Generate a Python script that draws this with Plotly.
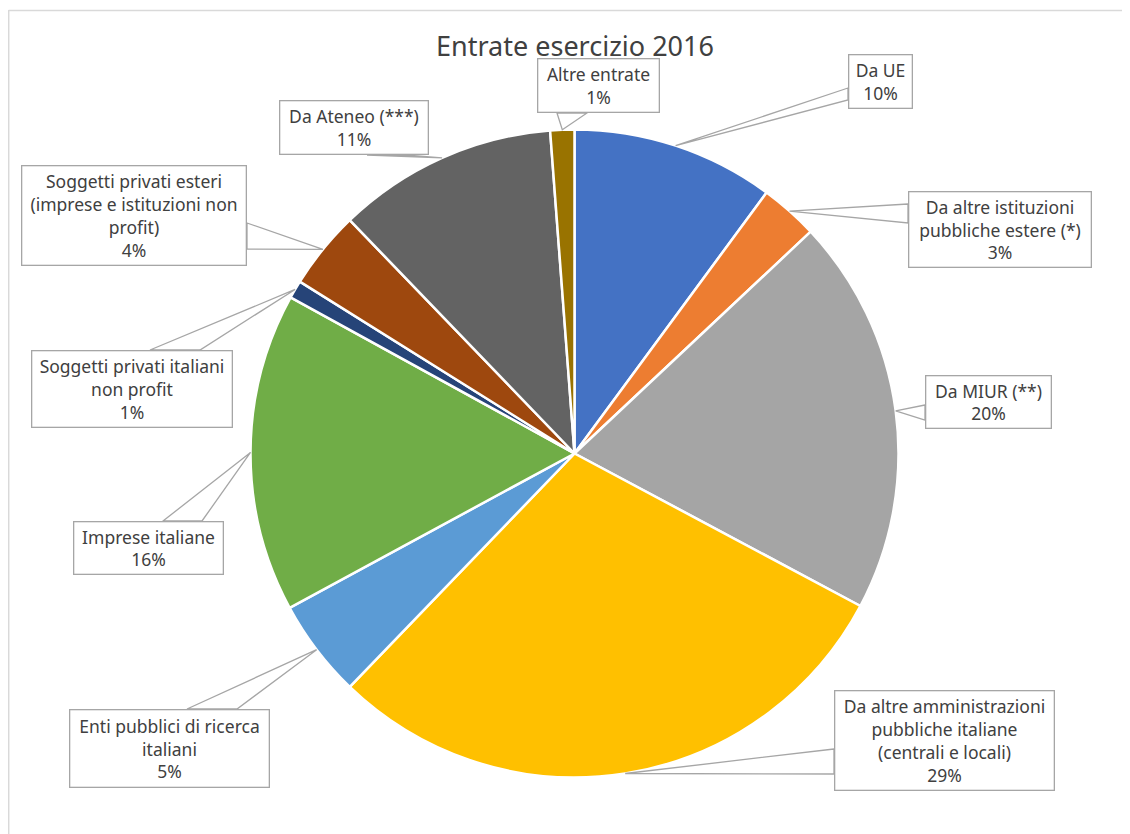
import math
import plotly.graph_objects as go

# ---------------- data ----------------
categories = [
    "Da UE",
    "Da altre istituzioni<br>pubbliche estere (*)",
    "Da MIUR (**)",
    "Da altre amministrazioni<br>pubbliche italiane<br>(centrali e locali)",
    "Enti pubblici di ricerca<br>italiani",
    "Imprese italiane",
    "Soggetti privati italiani<br>non profit",
    "Soggetti privati esteri<br>(imprese e istituzioni non<br>profit)",
    "Da Ateneo (***)",
    "Altre entrate",
]
values = [10.1, 2.9, 19.8, 29.4, 4.9, 15.9, 0.9, 3.9, 11.0, 1.2]
colors = ["#4472C4", "#ED7D31", "#A5A5A5", "#FFC000", "#5B9BD5",
          "#70AD47", "#264478", "#9E480E", "#636363", "#997300"]
title_text = "Entrate esercizio 2016"

# ---------------- layout geometry (page pixels) ----------------
OFF = 8                      # html body margin
W, H = 1130 - OFF, 834 - OFF
CX, CY, R = 574.5, 453.5, 324

# callout boxes: x0, x1, y0, y1 (page px)
boxes = [
    (848, 913, 54, 109),
    (908, 1092, 191, 268),
    (925, 1052, 375, 429),
    (834, 1055, 690, 791),
    (69, 270, 709, 788),
    (73, 224, 521, 575),
    (31, 233, 350, 428),
    (21, 247, 165, 266),
    (279, 429, 100, 155),
    (537, 660, 58, 113),
]
# wedge base: side and two coordinates along that side
bases = [
    ("l", 88, 100),
    ("l", 204, 223),
    ("l", 405, 420),
    ("l", 749, 774),
    ("t", 187, 237),
    ("t", 163, 202),
    ("t", 150, 200),
    ("r", 223, 249),
    ("b", 367, 405),
    ("b", 557, 587),
]

FONT = "Noto Sans, Open Sans, sans-serif"


def px(x):
    return (x - OFF) / W


def py(y):
    return 1 - (y - OFF) / H


fig = go.Figure()
fig.add_trace(go.Pie(
    labels=[c.replace("<br>", " ") for c in categories],
    values=values,
    sort=False,
    direction="clockwise",
    rotation=0,
    marker=dict(colors=colors, line=dict(color="white", width=2.5)),
    textinfo="none",
    hoverinfo="label+percent",
    showlegend=False,
    domain=dict(x=[px(CX - R), px(CX + R)], y=[py(CY + R), py(CY - R)]),
))

total = sum(values)
shapes = []
annotations = []
cum = 0.0
for i, v in enumerate(values):
    mid = (cum + v / 2) / total * 2 * math.pi
    cum += v
    tx = CX + R * math.sin(mid)
    ty = CY - R * math.cos(mid)
    x0, x1, y0, y1 = boxes[i]
    side, a, b = bases[i]
    if side == "l":
        p1, p2 = (x0, a), (x0, b)
    elif side == "r":
        p1, p2 = (x1, a), (x1, b)
    elif side == "t":
        p1, p2 = (a, y0), (b, y0)
    else:
        p1, p2 = (a, y1), (b, y1)
    path = "M {},{} L {},{} L {},{} Z".format(px(p1[0]), py(p1[1]), px(tx), py(ty), px(p2[0]), py(p2[1]))
    shapes.append(dict(type="path", path=path, xref="paper", yref="paper",
                       fillcolor="white", line=dict(color="#A6A6A6", width=1.3), layer="above"))
    pct = round(v / total * 100)
    bw = 1.3
    pad = 2
    annotations.append(dict(
        x=px((x0 + x1) / 2), y=py((y0 + y1) / 2), xref="paper", yref="paper",
        xanchor="center", yanchor="middle",
        width=(x1 - x0) - 2 * pad - 2 * bw, height=(y1 - y0) - 2 * pad - 2 * bw,
        text=f"{categories[i]}<br>{pct}%", showarrow=False, align="center",
        bgcolor="white", bordercolor="#A6A6A6", borderwidth=bw, borderpad=pad,
        font=dict(family=FONT, size=17.5, color="#404040"),
    ))

# chart frame (left and top edges visible)
shapes.append(dict(type="line", xref="paper", yref="paper", x0=px(8.7), x1=px(8.7), y0=0, y1=py(10),
                   line=dict(color="#D9D9D9", width=1.5)))
shapes.append(dict(type="line", xref="paper", yref="paper", x0=px(8.7), x1=1, y0=py(10.5), y1=py(10.5),
                   line=dict(color="#D9D9D9", width=1.5)))

fig.update_layout(
    width=W, height=H,
    margin=dict(l=0, r=0, t=0, b=0),
    paper_bgcolor="white", plot_bgcolor="white",
    title=dict(text=title_text, x=px(575), y=py(47), xref="paper", yref="container",
               xanchor="center", yanchor="middle",
               font=dict(family=FONT, size=27, color="#404040")),
    shapes=shapes,
    annotations=annotations,
)

fig.write_html("out.html")
